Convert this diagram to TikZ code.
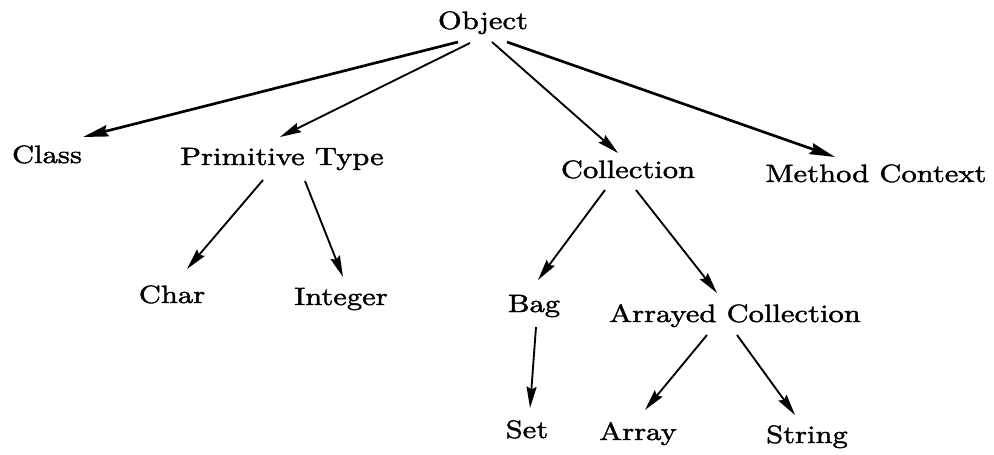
\documentclass[tikz,border=0pt]{standalone}
\usepackage{fontspec}
\setmainfont{lmroman10-regular.otf}[FakeStretch=1.22, FakeBold=1.6]
\usetikzlibrary{arrows.meta,calc}
\begin{document}
\begin{tikzpicture}[x=0.75pt,y=-0.75pt,
  lbl/.style={anchor=base,inner sep=0pt,font=\fontsize{18.8}{22}\selectfont},
  edge/.style={line width=1.4pt,-{Stealth[length=16pt,width=7.5pt,inset=2pt]}},
  thickedge/.style={edge,line width=2pt,-{Stealth[length=19pt,width=8.5pt,inset=2pt]}}]
\useasboundingbox (0,0) rectangle (994,454);
\node[lbl] (obj) at (483,29) {Object};
\node[lbl] (cls) at (47,163) {Class};
\node[lbl] (prim) at (282,165) {Primitive Type};
\node[lbl] (coll) at (628,178) {Collection};
\node[lbl] (meth) at (876,182) {Method Context};
\node[lbl] (chr) at (172,303) {Char};
\node[lbl] (intg) at (341,305) {Integer};
\node[lbl] (bag) at (534,312) {Bag};
\node[lbl] (arr) at (735,322) {Arrayed Collection};
\node[lbl] (set) at (527,438) {Set};
\node[lbl] (arry) at (638,440) {Array};
\node[lbl] (str) at (807,443) {String};

\draw[thickedge] ($(obj.base)+(-25,13)$) -- ($(cls.base)+(36,-26)$);
\draw[edge] ($(obj.base)+(-13,14)$) -- ($(prim.base)+(-2,-28)$);
\draw[edge] ($(obj.base)+(9,13)$) -- ($(coll.base)+(-10,-25)$);
\draw[thickedge] ($(obj.base)+(24,13)$) -- ($(meth.base)+(-41,-25)$);
\draw[edge] ($(prim.base)+(-19,15)$) -- ($(chr.base)+(15,-34)$);
\draw[edge] ($(prim.base)+(23,16)$) -- ($(intg.base)+(2,-28)$);
\draw[edge] ($(coll.base)+(-23,12)$) -- ($(bag.base)+(4,-32)$);
\draw[edge] ($(coll.base)+(8,12)$) -- ($(arr.base)+(-18,-29)$);
\draw[edge] ($(bag.base)+(2,15)$) -- ($(set.base)+(3,-30)$);
\draw[edge] ($(arr.base)+(-28,13)$) -- ($(arry.base)+(7,-30)$);
\draw[edge] ($(arr.base)+(2,13)$) -- ($(str.base)+(-12,-28)$);
\end{tikzpicture}
\end{document}
